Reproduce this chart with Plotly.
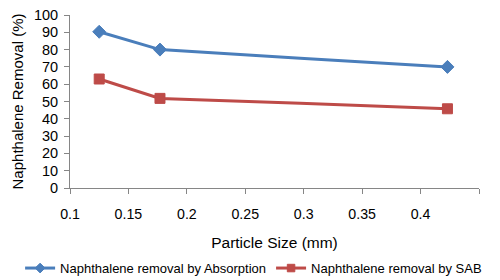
import plotly.graph_objects as go

particle_size = [0.125, 0.177, 0.297, 0.423]
absorption = [90.3, 80.0, 75.0, 70.0]
sab = [63.0, 51.8, 49.0, 45.8]
marker_sizes_abs = [10, 10, 0, 10]
marker_sizes_sab = [10, 10, 0, 10]

x_tickvals = [0.1, 0.15, 0.2, 0.25, 0.3, 0.35, 0.4, 0.45]
x_ticktext = ["0.1", "0.15", "0.2", "0.25", "0.3", "0.35", "0.4", ""]
y_tickvals = list(range(0, 101, 10))

fig = go.Figure()
fig.add_trace(go.Scatter(
    x=particle_size, y=absorption, mode="lines+markers",
    name="Naphthalene removal by Absorption",
    line=dict(color="#4A7EBB", width=3),
    marker=dict(symbol="diamond", size=marker_sizes_abs, color="#4A7EBB",
                opacity=1, line=dict(color="#4A7EBB", width=1)),
))
fig.add_trace(go.Scatter(
    x=particle_size, y=sab, mode="lines+markers",
    name="Naphthalene removal by SAB",
    line=dict(color="#BE4B48", width=3),
    marker=dict(symbol="square", size=marker_sizes_sab, color="#BE4B48",
                opacity=1, line=dict(color="#BE4B48", width=1)),
))

# page body has an 8px margin, so the figure is 8px smaller each way
fig.update_layout(
    width=492, height=272,
    margin=dict(l=62, r=21, t=7, b=92, autoexpand=False),
    paper_bgcolor="white", plot_bgcolor="white",
    font=dict(family="Liberation Sans, Arial", size=14, color="black"),
    showlegend=True,
    legend=dict(orientation="h", x=-0.122, xanchor="left", y=-0.463, yanchor="middle",
                font=dict(size=13), itemwidth=30, tracegroupgap=0,
                bgcolor="rgba(0,0,0,0)"),
    xaxis=dict(range=[0.1, 0.45], tickvals=x_tickvals, ticktext=x_ticktext,
               showgrid=False, zeroline=False, showline=True, linecolor="#868686",
               linewidth=1, ticks="outside", ticklen=5, tickcolor="#868686",
               tickfont=dict(size=14.2), ticklabelstandoff=8, automargin=False,
               title=dict(text="Particle Size (mm)", font=dict(size=15.5), standoff=16)),
    yaxis=dict(range=[0, 100], tickvals=y_tickvals,
               showgrid=False, zeroline=False, showline=True, linecolor="#868686",
               linewidth=1, ticks="outside", ticklen=5, tickcolor="#868686",
               tickfont=dict(size=14.5), ticklabelstandoff=3, automargin=False,
               ticklabeloverflow="allow",
               title=dict(text="Naphthalene Removal (%)", font=dict(size=15), standoff=6)),
)

fig.write_html("out.html")
